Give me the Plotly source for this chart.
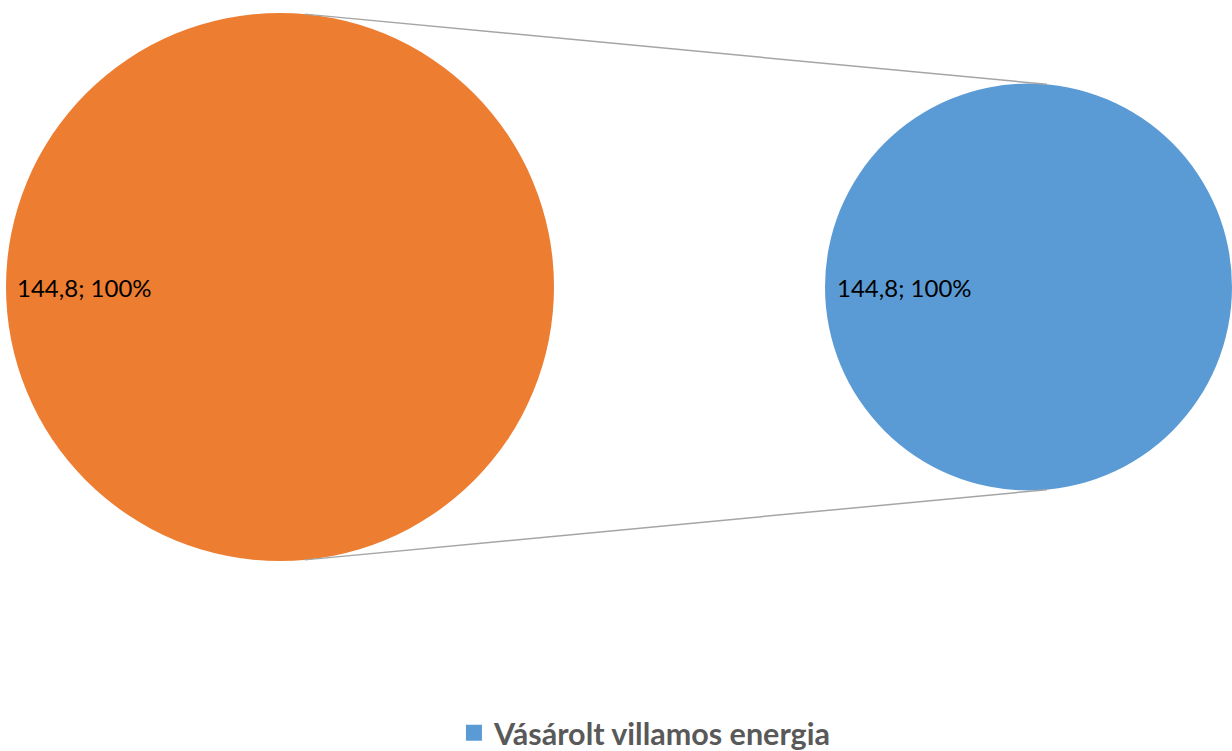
import math
import plotly.graph_objects as go

# ---- data ----
main_labels = ["Egyéb"]
main_values = [144.8]
sub_labels = ["Vásárolt villamos energia"]
sub_values = [144.8]

W, H = 1232, 751
ORANGE = "#ED7D31"
BLUE = "#5B9BD5"

# geometry (pixels)
L_cx, L_cy, L_r = 280, 287, 274
R_cx, R_cy, R_r = 1028.5, 287, 203.5


def dom(cx, cy, r):
    return dict(x=[max(0, (cx - r) / W), min(1, (cx + r) / W)],
                y=[1 - (cy + r) / H, 1 - (cy - r) / H])


def fmt(v, total):
    return f"{v:.1f}".replace(".", ",") + f"; {round(100 * v / total)}%"


fig = go.Figure()
fig.add_trace(go.Pie(
    labels=main_labels, values=main_values, domain=dom(L_cx, L_cy, L_r),
    marker=dict(colors=[ORANGE], line=dict(width=0)), textinfo="none",
    showlegend=False, sort=False, hoverinfo="label+value+percent",
))
fig.add_trace(go.Pie(
    labels=sub_labels, values=sub_values, domain=dom(R_cx, R_cy, R_r),
    marker=dict(colors=[BLUE], line=dict(width=0)), textinfo="none",
    showlegend=False, sort=False, hoverinfo="label+value+percent",
))
# legend entry (square swatch)
fig.add_trace(go.Scatter(
    x=[None], y=[None], mode="markers", name=sub_labels[0],
    marker=dict(symbol="square", size=17, color=BLUE), showlegend=True,
    hoverinfo="skip",
))

# connector lines between the two pies
ang = math.radians(5.2)
for sgn in (-1, 1):
    x0 = L_cx + L_r * math.sin(ang)
    y0 = L_cy + sgn * L_r * math.cos(ang)
    x1 = R_cx + R_r * math.sin(ang)
    y1 = R_cy + sgn * R_r * math.cos(ang)
    fig.add_shape(type="line", xref="paper", yref="paper",
                  x0=x0 / W, y0=1 - y0 / H, x1=x1 / W, y1=1 - y1 / H,
                  line=dict(color="#A5A5A5", width=1.5))

# data labels
tot_main = sum(main_values)
tot_sub = sum(sub_values)
fig.add_annotation(x=(L_cx - L_r + 9) / W, y=1 - L_cy / H, xref="paper", yref="paper",
                   xanchor="left", yanchor="middle", showarrow=False,
                   text=fmt(main_values[0], tot_main),
                   font=dict(family="Lato", size=24, color="#000000"))
fig.add_annotation(x=(R_cx - R_r + 10) / W, y=1 - R_cy / H, xref="paper", yref="paper",
                   xanchor="left", yanchor="middle", showarrow=False,
                   text=fmt(sub_values[0], tot_sub),
                   font=dict(family="Lato", size=24, color="#000000"))

fig.update_layout(
    width=W, height=H,
    margin=dict(l=0, r=0, t=0, b=0, autoexpand=False),
    paper_bgcolor="white", plot_bgcolor="white",
    xaxis=dict(visible=False), yaxis=dict(visible=False),
    hovermode="closest",
    legend=dict(orientation="h", x=0.5235, xanchor="center", y=1 - 733 / H, yanchor="middle",
                font=dict(family="Lato", size=30.5, color="#595959", weight="bold"),
                itemsizing="trace"),
)

fig.write_html("out.html", config={"displayModeBar": False},
               post_script="document.body.style.margin='0';document.body.style.overflow='hidden';")
